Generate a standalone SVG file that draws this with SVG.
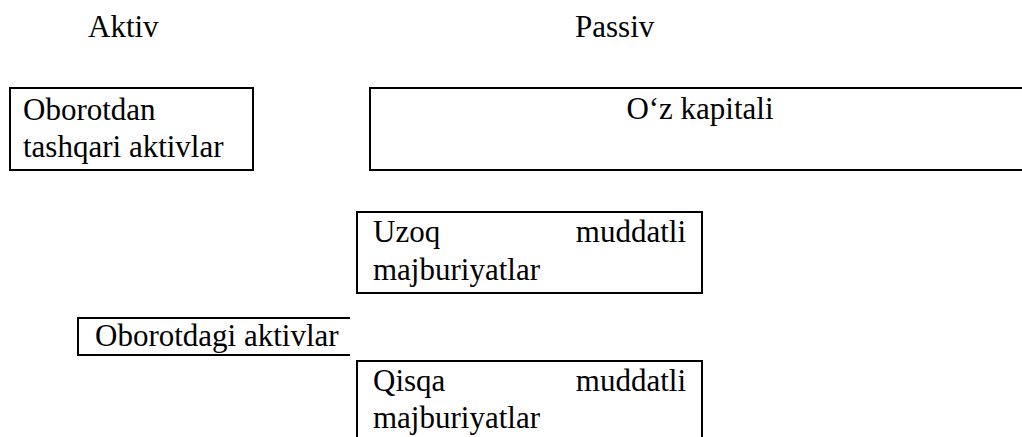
<svg xmlns="http://www.w3.org/2000/svg" width="1022" height="437" viewBox="0 0 1022 437">
<style>
text{font-family:"Liberation Serif","Times New Roman",serif;font-size:31px;fill:#000}
.box{fill:none;stroke:#000;stroke-width:2}
</style>
<rect width="1022" height="437" fill="#fff"/>
<g id="header-aktiv"><text x="88" y="37">Aktiv</text></g>
<g id="header-passiv"><text x="575" y="37">Passiv</text></g>
<g id="node-oborotdan">
<rect class="box" x="10" y="88" width="243" height="82"/>
<text x="23" y="120">Oborotdan<tspan x="23" y="157">tashqari aktivlar</tspan></text>
</g>
<g id="node-oz-kapitali">
<path class="box" d="M1030,88 H370 V170 H1030"/>
<text x="700" y="119" text-anchor="middle">O‘z kapitali</text>
</g>
<g id="node-uzoq">
<rect class="box" x="357" y="212" width="345" height="81"/>
<text x="373" y="242">Uzoq<tspan x="686" text-anchor="end">muddatli</tspan><tspan x="373" y="280">majburiyatlar</tspan></text>
</g>
<g id="node-oborotdagi">
<path class="box" d="M350,318 H78 V355 H350"/>
<text x="95" y="346">Oborotdagi aktivlar</text>
</g>
<g id="node-qisqa">
<path class="box" d="M357,445 V361 H702 V445"/>
<text x="373" y="391">Qisqa<tspan x="686" text-anchor="end">muddatli</tspan><tspan x="373" y="428">majburiyatlar</tspan></text>
</g>
<g id="connectors"></g>
</svg>
